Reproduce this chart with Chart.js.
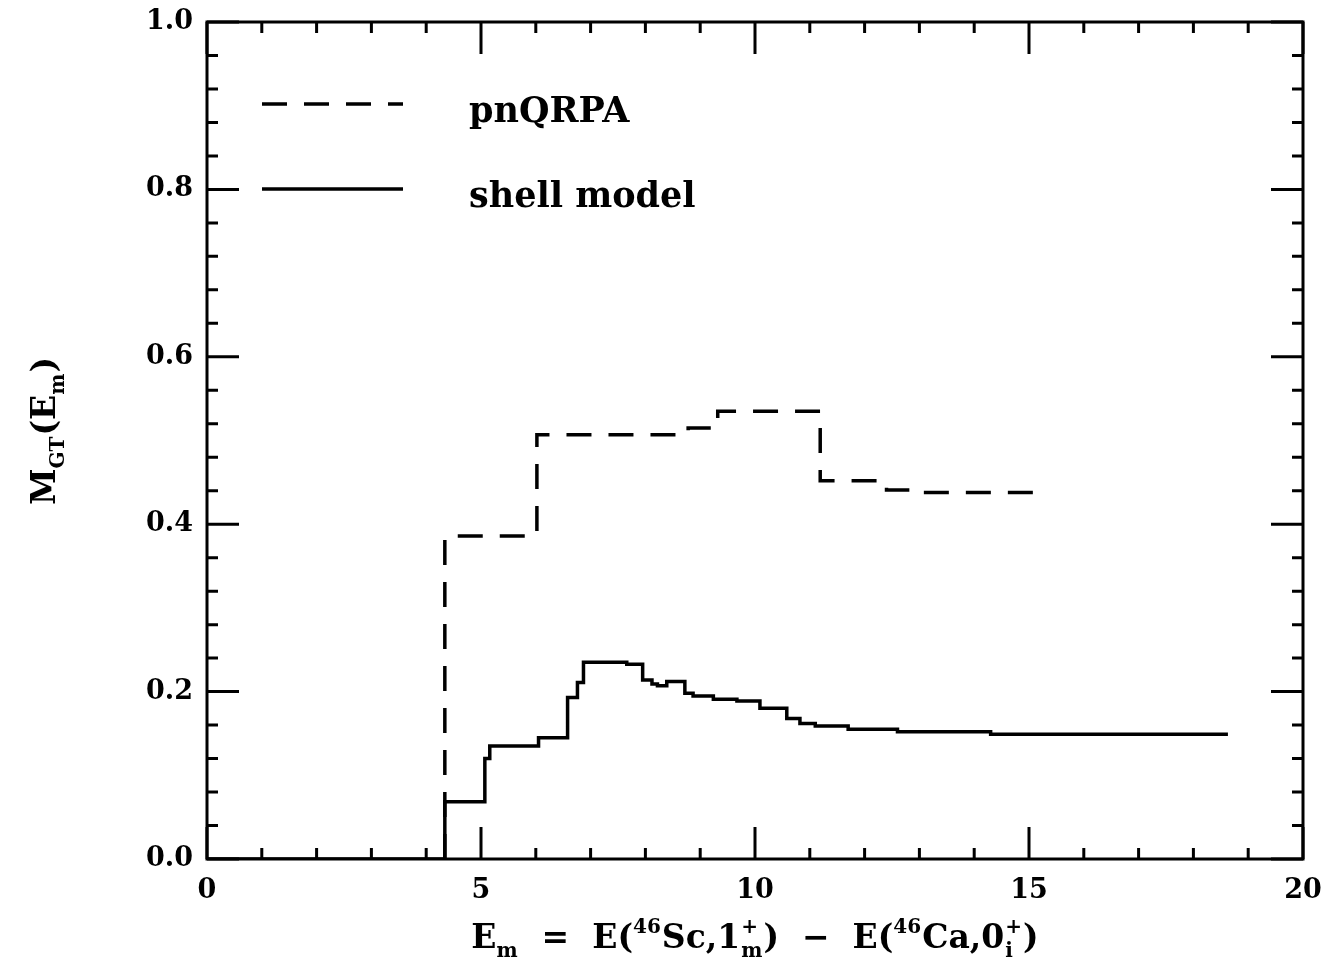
<!DOCTYPE html>
<html><head><meta charset="utf-8">
<script src="https://cdn.jsdelivr.net/npm/chart.js@4.4.1/dist/chart.umd.min.js"></script>
<style>html,body{margin:0;padding:0;background:#fff;} #wrap{width:1340px;height:968px;}</style>
</head><body><div id="wrap"><canvas id="c" width="1340" height="968" style="width:1340px;height:968px"></canvas></div>
<script>
// ---- data ----
const xTickValues = [0, 5, 10, 15, 20];
const yTickLabels = ['0.0', '0.2', '0.4', '0.6', '0.8', '1.0'];
const qrpaLabel = 'pnQRPA';
const shellLabel = 'shell model';
// step starts (x) and value held from that x onward
const qrpaX = [4.34, 4.34, 6.02, 8.78, 9.32, 11.19, 12.4, 12.9, 15.15];
const qrpaY = [0, 0.386, 0.507, 0.515, 0.535, 0.452, 0.441, 0.438, 0.438];
const shellX = [0, 4.34, 5.07, 5.16, 6.05, 6.58, 6.76, 6.87, 7.66, 7.95, 8.12, 8.22, 8.39, 8.72, 8.87, 9.24, 9.67, 10.09, 10.58, 10.82, 11.1, 11.7, 12.6, 14.3, 18.63];
const shellY = [0, 0.0685, 0.120, 0.135, 0.145, 0.193, 0.211, 0.235, 0.2326, 0.214, 0.209, 0.207, 0.212, 0.198, 0.1947, 0.1908, 0.1888, 0.180, 0.168, 0.162, 0.159, 0.155, 0.152, 0.149, 0.149];
const xMinorStep = 1, xMajorEvery = 5;
const yMinorStep = 0.04, yMajorEvery = 5;

const FONT = '"DejaVu Serif", serif';

function richWidth(ctx, parts, size) {
  let w = 0;
  for (const [t, k] of parts) {
    if (k === 'n') { ctx.font = `bold ${size}px ${FONT}`; w += ctx.measureText(t).width; }
    else if (k === 'ss') { ctx.font = `bold ${Math.round(size*0.62)}px ${FONT}`; w += Math.max(ctx.measureText(t[0]).width, ctx.measureText(t[1]).width) + 2; }
    else { ctx.font = `bold ${Math.round(size*0.62)}px ${FONT}`; w += ctx.measureText(t).width + 1; }
  }
  return w;
}
function drawRich(ctx, parts, size, cx, base) {
  const total = richWidth(ctx, parts, size);
  let x = cx - total / 2;
  ctx.textAlign = 'left'; ctx.textBaseline = 'alphabetic';
  const small = Math.round(size * 0.62);
  for (const [t, k] of parts) {
    if (k === 'n') { ctx.font = `bold ${size}px ${FONT}`; ctx.fillText(t, x, base); x += ctx.measureText(t).width; }
    else if (k === 'sub') { ctx.font = `bold ${small}px ${FONT}`; ctx.fillText(t, x, base + size*0.28); x += ctx.measureText(t).width + 1; }
    else if (k === 'sup') { ctx.font = `bold ${small}px ${FONT}`; ctx.fillText(t, x, base - size*0.45); x += ctx.measureText(t).width + 1; }
    else if (k === 'ss') { ctx.font = `bold ${small}px ${FONT}`;
      ctx.fillText(t[0], x + 1, base - size*0.45); ctx.fillText(t[1], x + 1, base + size*0.28);
      x += Math.max(ctx.measureText(t[0]).width, ctx.measureText(t[1]).width) + 2; }
  }
}
const xTitleParts = [['E','n'],['m','sub'],['  =  E(','n'],['46','sup'],['Sc,1','n'],[['+','m'],'ss'],[')  −  E(','n'],['46','sup'],['Ca,0','n'],[['+','i'],'ss'],[')','n']];
const yTitleParts = [['M','n'],['GT','sub'],['(E','n'],['m','sub'],[')','n']];

const framePlugin = {
  id: 'frame',
  afterDraw(chart) {
    const ctx = chart.ctx, ca = chart.chartArea, xs = chart.scales.x, ys = chart.scales.y;
    ctx.save();
    ctx.strokeStyle = '#000'; ctx.lineWidth = 3;
    ctx.strokeRect(ca.left, ca.top, ca.right - ca.left, ca.bottom - ca.top);
    ctx.lineWidth = 3;
    ctx.beginPath();
    const nx = Math.round((xs.max - xs.min) / xMinorStep);
    for (let i = 0; i <= nx; i++) {
      const px = xs.getPixelForValue(xs.min + i * xMinorStep);
      const L = i % xMajorEvery === 0 ? 32 : 11;
      ctx.moveTo(px, ca.bottom); ctx.lineTo(px, ca.bottom - L);
      ctx.moveTo(px, ca.top); ctx.lineTo(px, ca.top + L);
    }
    const ny = Math.round((ys.max - ys.min) / yMinorStep);
    for (let i = 0; i <= ny; i++) {
      const py = ys.getPixelForValue(ys.min + i * yMinorStep);
      const L = i % yMajorEvery === 0 ? 32 : 11;
      ctx.moveTo(ca.left, py); ctx.lineTo(ca.left + L, py);
      ctx.moveTo(ca.right, py); ctx.lineTo(ca.right - L, py);
    }
    ctx.stroke();

    // legend
    const ds = chart.data.datasets;
    const rows = [104, 189];
    ds.forEach((d, i) => {
      ctx.beginPath();
      ctx.lineWidth = d.borderWidth;
      ctx.setLineDash(d.borderDash || []);
      ctx.moveTo(ca.left + 55, rows[i]); ctx.lineTo(ca.left + 196, rows[i]);
      ctx.stroke();
      ctx.setLineDash([]);
      ctx.font = `bold 35px ${FONT}`;
      ctx.fillStyle = '#000'; ctx.textAlign = 'left'; ctx.textBaseline = 'alphabetic';
      ctx.fillText(d.label, ca.left + 262, rows[i] + 18);
    });

    // axis titles
    ctx.fillStyle = '#000';
    drawRich(ctx, xTitleParts, 33, (ca.left + ca.right) / 2, 948);
    ctx.translate(44, 431);
    ctx.rotate(-Math.PI / 2);
    drawRich(ctx, yTitleParts, 33, 0, 11);
    ctx.restore();
  }
};

const tickFont = { family: 'DejaVu Serif', size: 27, weight: 'bold' };
new Chart(document.getElementById('c'), {
  type: 'line',
  data: {
    datasets: [
      { label: qrpaLabel, data: qrpaX.map((x, i) => ({ x, y: qrpaY[i] })), borderColor: '#000', borderWidth: 3.5, borderDash: [25, 17], stepped: true, pointRadius: 0, fill: false },
      { label: shellLabel, data: shellX.map((x, i) => ({ x, y: shellY[i] })), borderColor: '#000', borderWidth: 3.5, stepped: true, pointRadius: 0, fill: false }
    ]
  },
  options: {
    responsive: false, animation: false, devicePixelRatio: 1,
    layout: { padding: { left: 0, top: 22, right: 37, bottom: 0 } },
    plugins: { legend: { display: false }, tooltip: { enabled: false } },
    scales: {
      x: { type: 'linear', min: 0, max: 20,
        afterFit(s) { s.height = 109; s.paddingLeft = 0; s.paddingRight = 0; },
        grid: { display: false, drawTicks: false }, border: { display: false },
        ticks: { stepSize: 5, color: '#000', font: tickFont, padding: 16, maxRotation: 0, autoSkip: false,
          callback: (v) => xTickValues.includes(v) ? String(v) : '' } },
      y: { type: 'linear', min: 0, max: 1,
        afterFit(s) { s.width = 207; s.paddingTop = 0; s.paddingBottom = 0; },
        grid: { display: false, drawTicks: false }, border: { display: false },
        ticks: { stepSize: 0.2, color: '#000', font: tickFont, padding: 14,
          callback: (v, i) => yTickLabels[i] } }
    }
  },
  plugins: [framePlugin]
});
</script>
</body></html>
